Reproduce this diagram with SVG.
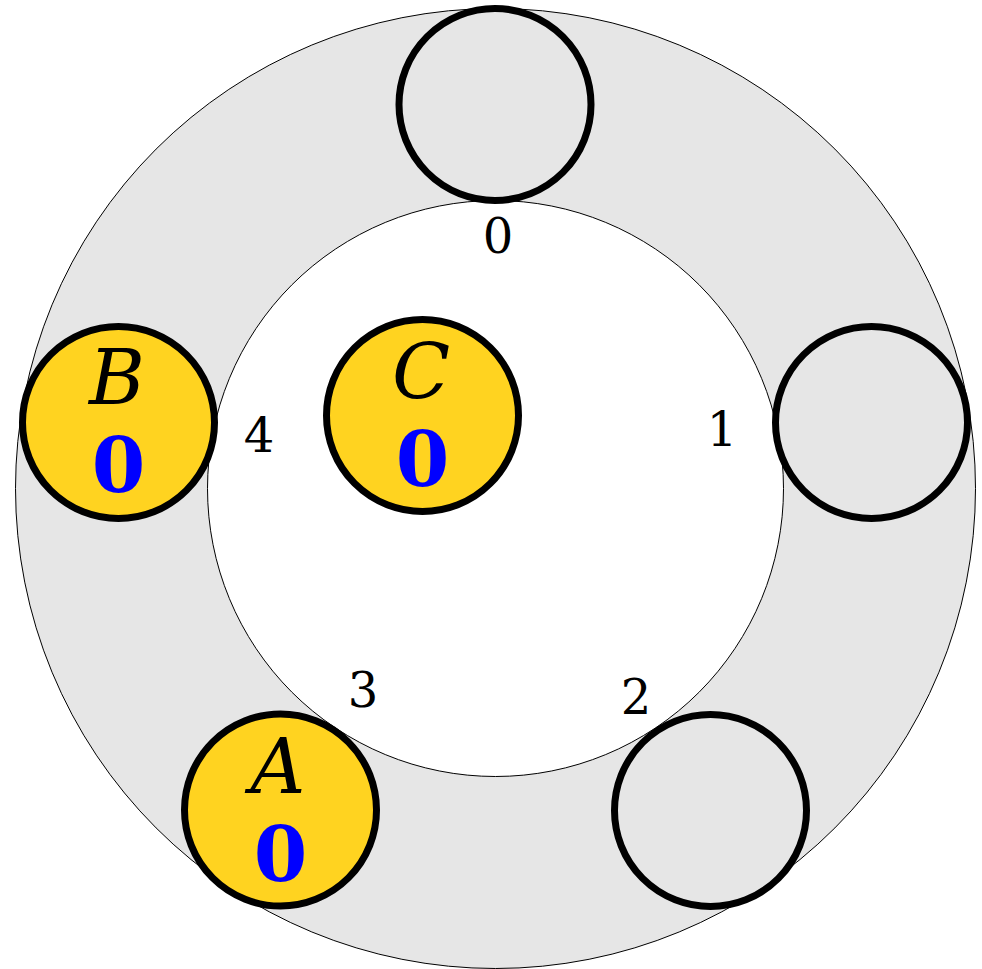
<svg xmlns="http://www.w3.org/2000/svg" width="982" height="969" viewBox="0 0 982 969">
<style>
.ring{stroke:#000;stroke-width:1}
.node{stroke:#000;stroke-width:7}
.empty{fill:#e6e6e6}
.full{fill:#ffd320}
.let{font-family:"DejaVu Serif",serif;font-style:italic;font-size:76px;fill:#000;text-anchor:middle}
.val{font-family:"DejaVu Serif",serif;font-weight:bold;font-size:77px;fill:#0000ff;text-anchor:middle}
.idx{font-family:"DejaVu Serif",serif;font-size:48px;fill:#000;text-anchor:middle}
</style>
<rect width="982" height="969" fill="#fff"/>
<g id="ring">
<circle class="ring" cx="495.5" cy="488.5" r="480" fill="#e6e6e6"/>
<circle class="ring" cx="495.5" cy="488.5" r="288" fill="#fff"/>
</g>
<g id="connectors"></g>
<g id="slot0"><circle class="node empty" cx="495" cy="104.5" r="96"/></g>
<g id="slot1"><circle class="node empty" cx="871.5" cy="422.5" r="96"/></g>
<g id="slot2"><circle class="node empty" cx="710.5" cy="810.5" r="96"/></g>
<g id="nodeA"><circle class="node full" cx="280.5" cy="810" r="96"/><text class="let" x="278" y="793">A</text><text class="val" x="280.5" y="881">0</text></g>
<g id="nodeB"><circle class="node full" cx="118.5" cy="422.5" r="96"/><text class="let" x="117" y="404">B</text><text class="val" x="118.5" y="492">0</text></g>
<g id="nodeC"><circle class="node full" cx="422.5" cy="415.5" r="96"/><text class="let" x="421" y="398">C</text><text class="val" x="422.5" y="486">0</text></g>
<g id="labels">
<text class="idx" x="498" y="253">0</text>
<text class="idx" x="722" y="446">1</text>
<text class="idx" x="636" y="714">2</text>
<text class="idx" x="363" y="707">3</text>
<text class="idx" x="259" y="452">4</text>
</g>
</svg>
